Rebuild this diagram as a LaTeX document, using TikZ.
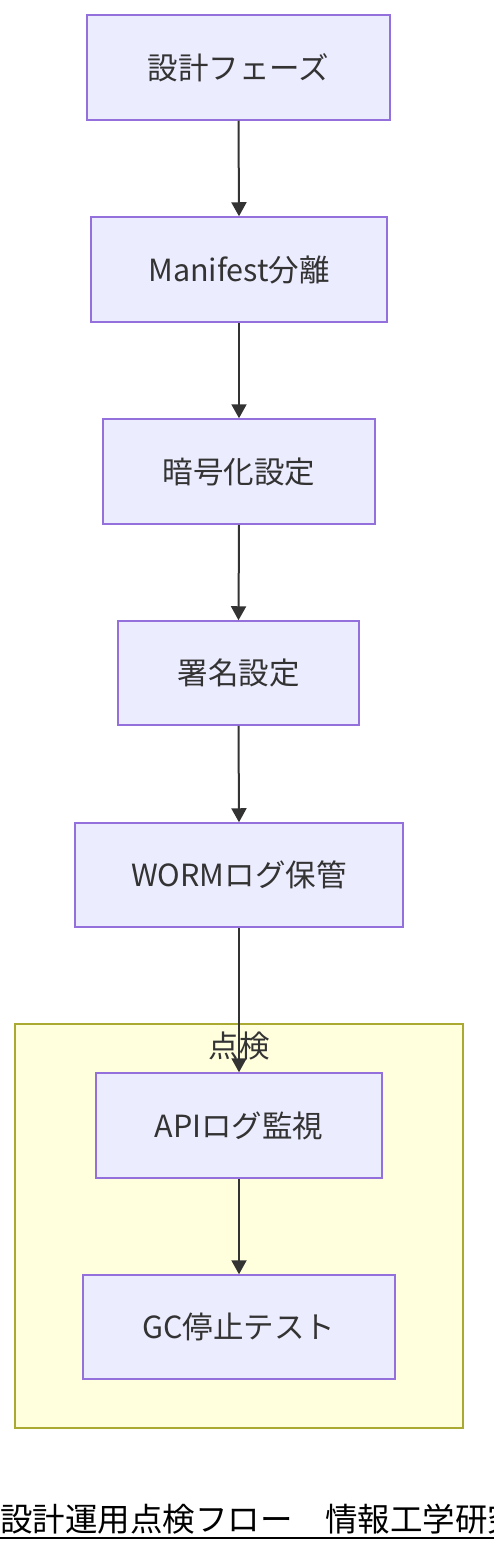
\documentclass[tikz,border=0pt]{standalone}
\usepackage{fontspec}
\setmainfont{Noto Sans CJK JP}
\usetikzlibrary{arrows.meta}
\definecolor{boxfill}{HTML}{ECECFF}
\definecolor{boxline}{HTML}{9370DB}
\definecolor{groupfill}{HTML}{FFFFDE}
\definecolor{groupline}{HTML}{AAAA33}
\definecolor{ink}{HTML}{333333}

\begin{document}
\begin{tikzpicture}[x=1pt,y=-1pt,
    stepbox/.style={draw=boxline,fill=boxfill,line width=1.5pt,text=ink,
        font=\fontsize{30.5}{30.5}\selectfont,inner sep=0pt},
    flow/.style={draw=ink,line width=2pt,-{Triangle[length=14pt,width=15pt]}}]
    \useasboundingbox (0,0) rectangle (494,1552);
    % check group
    \draw[groupline,fill=groupfill,line width=1.5pt] (15,1024) rectangle (463,1428);
    \node[text=ink,font=\fontsize{30.5}{30.5}\selectfont,inner sep=0pt] (checklabel) at (239,1045.5) {点検};
    % steps
    \node[stepbox,minimum width=303pt,minimum height=105pt] (design) at (238.5,67.5) {設計フェーズ};
    \node[stepbox,minimum width=296pt,minimum height=105pt] (manifest) at (239,269.5) {Manifest分離};
    \node[stepbox,minimum width=272pt,minimum height=105pt] (crypt) at (239,471.5) {暗号化設定};
    \node[stepbox,minimum width=241pt,minimum height=104pt] (sign) at (238.5,673) {署名設定};
    \node[stepbox,minimum width=328pt,minimum height=104pt] (worm) at (239,875) {WORMログ保管};
    \node[stepbox,minimum width=286pt,minimum height=105pt] (apilog) at (239,1125.5) {APIログ監視};
    \node[stepbox,minimum width=312pt,minimum height=104pt] (gctest) at (239,1327) {GC停止テスト};
    % draw arrows
    \draw[flow] (design.south) -- (manifest.north);
    \draw[flow] (manifest.south) -- (crypt.north);
    \draw[flow] (crypt.south) -- (sign.north);
    \draw[flow] (sign.south) -- (worm.north);
    \draw[flow] (worm.south) -- (apilog.north);
    \draw[flow] (apilog.south) -- (gctest.north);
    % title
    \node[anchor=base west,inner sep=0pt,font=\fontsize{32.5}{32.5}\selectfont] (title) at (0,1531) {設計運用点検フロー　情報工学研究};
    \draw[line width=2pt] (0,1537.5) -- (494,1537.5);
\end{tikzpicture}
\end{document}
